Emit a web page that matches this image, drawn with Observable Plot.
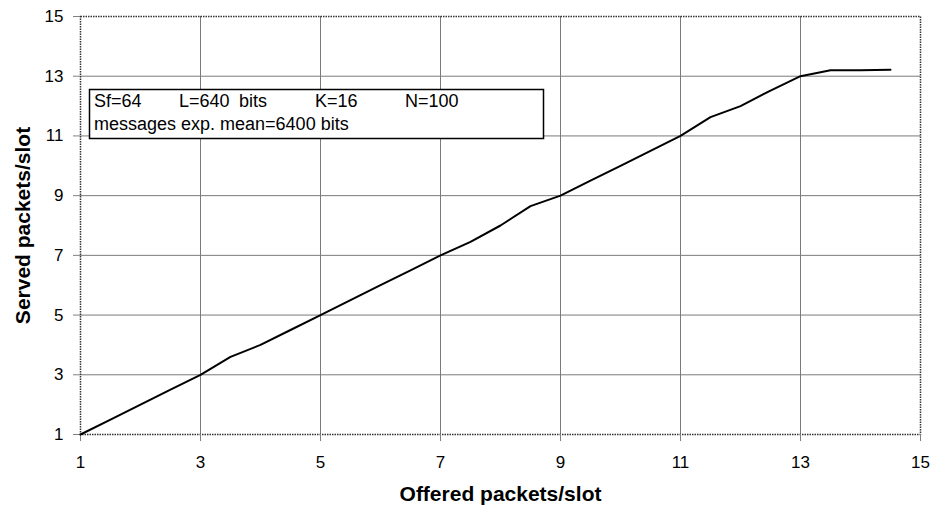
<!DOCTYPE html>
<html>
<head>
<meta charset="utf-8">
<script src="https://cdn.jsdelivr.net/npm/d3@7"></script>
<script src="https://cdn.jsdelivr.net/npm/@observablehq/plot@0.6"></script>
<style>
  html, body { margin: 0; padding: 0; background: #fff; }
  #chart { position: relative; width: 932px; height: 506px; }
</style>
</head>
<body>
<div id="chart"></div>
<script>
const offered = [1, 1.5, 2, 2.5, 3, 3.5, 4, 4.5, 5, 5.5, 6, 6.5, 7, 7.5, 8, 8.5, 9, 9.5, 10, 10.5, 11, 11.5, 12, 12.5, 13, 13.5, 14, 14.5];
const served  = [1.0, 1.5, 2.0, 2.5, 3.0, 3.6, 4.0, 4.5, 5.0, 5.5, 6.0, 6.5, 7.0, 7.45, 8.0, 8.65, 9.0, 9.5, 10.0, 10.5, 11.0, 11.63, 12.0, 12.52, 13.0, 13.2, 13.2, 13.22];
const tickValues = [1, 3, 5, 7, 9, 11, 13, 15];
const gridValues = [3, 5, 7, 9, 11, 13];
const xTitle = "Offered packets/slot";
const yTitle = "Served packets/slot";
const boxLine1 = ["Sf=64", "L=640", "bits", "K=16", "N=100"];
const boxLine2 = "messages exp. mean=6400 bits";

const data = offered.map((x, i) => ({x, y: served[i]}));
const font = "Arial, 'Liberation Sans', Helvetica, sans-serif";

const plot = Plot.plot({
  width: 932,
  height: 506,
  marginLeft: 80,
  marginRight: 12,
  marginTop: 16,
  marginBottom: 72,
  style: {fontFamily: font, fontSize: "17px", color: "#000", background: "#fff"},
  x: {domain: [1, 15]},
  y: {domain: [1, 15]},
  marks: [
    Plot.gridX(gridValues, {stroke: "#7a7a7a", strokeOpacity: 1}),
    Plot.gridY(gridValues, {stroke: "#7a7a7a", strokeOpacity: 1}),
    Plot.frame({stroke: "#333", strokeWidth: 1.5, strokeDasharray: "1.5,1"}),
    Plot.axisX(tickValues, {tickSize: 7, tickPadding: 14, label: null, stroke: "#808080", fill: "#000", fontSize: 17}),
    Plot.axisY(tickValues, {tickSize: 7, tickPadding: 10, label: null, stroke: "#808080", fill: "#000", fontSize: 17}),
    Plot.line(data, {x: "x", y: "y", stroke: "#000", strokeWidth: 2}),
    Plot.text([xTitle], {frameAnchor: "bottom", dy: 60, fontWeight: "bold", fontSize: 21, fill: "#000", lineAnchor: "middle", textAnchor: "middle"}),
    Plot.text([yTitle], {frameAnchor: "left", dx: -57, rotate: -90, fontWeight: "bold", fontSize: 21, fill: "#000", lineAnchor: "middle", textAnchor: "middle"})
  ]
});
document.getElementById("chart").appendChild(plot);

// Annotation box
const svg = d3.select(plot);
const g = svg.append("g").attr("font-family", font).attr("font-size", 18).attr("text-anchor", "start");
g.append("rect").attr("x", 89.5).attr("y", 89.5).attr("width", 454).attr("height", 49)
  .attr("fill", "#fff").attr("stroke", "#000").attr("stroke-width", 1.5);
const line1X = [94, 179, 239, 315, 405];
const t1 = g.append("text").attr("y", 107).attr("fill", "#000");
boxLine1.forEach((s, i) => t1.append("tspan").attr("x", line1X[i]).text(s));
g.append("text").attr("x", 94).attr("y", 129.5).attr("fill", "#000").text(boxLine2);
</script>
</body>
</html>
